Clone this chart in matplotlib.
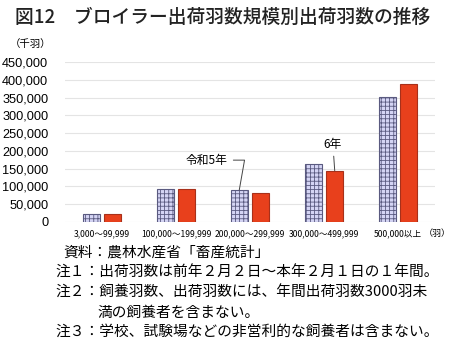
import numpy as np
import matplotlib
matplotlib.use("Agg")
import matplotlib.pyplot as plt

plt.rcParams['font.family'] = ['Noto Sans CJK JP', 'DejaVu Sans']
plt.rcParams['hatch.linewidth'] = 0.6

# Data (thousand birds)
categories = ['3,000～99,999', '100,000～199,999', '200,000～299,999',
              '300,000～499,999', '500,000以上']
r5_values = [22000, 94000, 90000, 162000, 351000]
r6_values = [22500, 92000, 81000, 144000, 387000]
yticks = [0, 50000, 100000, 150000, 200000, 250000, 300000, 350000, 400000, 450000]

W, H = 450, 345
fig = plt.figure(figsize=(W / 100, H / 100), dpi=100)

# axes placed in pixel terms of the reference
left, right, bottom, top = 65, 435, 222, 62
ax = fig.add_axes([left / W, 1 - bottom / H, (right - left) / W, (bottom - top) / H])

x = np.arange(len(categories))
bw = 0.235
off = 0.145
ax.bar(x - off, r5_values, bw, color='#d4d4f4', edgecolor='#5a5a80',
       hatch='++++', linewidth=0.8, zorder=3)
ax.bar(x + off, r6_values, bw, color='#e8401c', edgecolor='#a8301a',
       linewidth=0.8, zorder=3)

ax.set_xlim(-0.5, len(categories) - 0.5)
ax.set_ylim(0, 450000)
ax.set_yticks(yticks)
ax.set_yticklabels([f'{v:,}' for v in yticks], fontsize=9.2,
                   family=['Liberation Sans', 'DejaVu Sans'])
ax.set_xticks(x)
ax.set_xticklabels(categories, fontsize=6.2)
ax.tick_params(axis='y', length=0, pad=12)
ax.tick_params(axis='x', length=0, pad=5)
ax.grid(axis='y', color='#e4e4e4', linewidth=0.8, zorder=0)
for s in ax.spines.values():
    s.set_visible(False)

# year labels with leader lines
ax.annotate('令和5年', xy=(2 - off, r5_values[2]), xytext=(1.70, 174000),
            fontsize=8.5, ha='right', va='center',
            arrowprops=dict(arrowstyle='-', color='#444444', lw=0.7,
                            shrinkA=2, shrinkB=0,
                            connectionstyle='angle,angleA=0,angleB=80,rad=0'))
ax.annotate('6年', xy=(3 + off, r6_values[3]), xytext=(3.12, 219000),
            fontsize=8.5, ha='center', va='center',
            arrowprops=dict(arrowstyle='-', color='#444444', lw=0.7,
                            shrinkA=2, shrinkB=0))

fig.text(15 / W, 1 - 17 / H, '図12　ブロイラー出荷羽数規模別出荷羽数の推移',
         fontsize=13.5, fontweight='medium', va='center', ha='left', color='#222222')
fig.text(10 / W, 1 - 44 / H, '（千羽）', fontsize=7.5, va='center', ha='left')
fig.text(424 / W, 1 - 233 / H, '（羽）', fontsize=6.5, va='center', ha='left')

notes = [
    (63, 253, '資料：農林水産省「畜産統計」'),
    (55, 273, '注１：出荷羽数は前年２月２日～本年２月１日の１年間。'),
    (55, 293, '注２：飼養羽数、出荷羽数には、年間出荷羽数3000羽未'),
    (97, 313, '満の飼養者を含まない。'),
    (55, 332, '注３：学校、試験場などの非営利的な飼養者は含まない。'),
]
for nx, ny, t in notes:
    fig.text(nx / W, 1 - ny / H, t, fontsize=10.6, va='center', ha='left')

fig.savefig('out.png', dpi=100)
